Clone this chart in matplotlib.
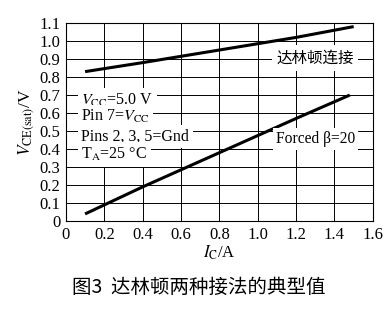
import numpy as np
import matplotlib
matplotlib.use("Agg")
import matplotlib.pyplot as plt

plt.rcParams['font.family'] = ['Liberation Serif', 'Noto Sans CJK SC']
plt.rcParams['mathtext.fontset'] = 'stix'

# curves
ic_darl = [0.10, 0.40, 0.80, 1.20, 1.50]
v_darl = [0.83, 0.88, 0.95, 1.02, 1.08]
ic_forced = [0.10, 0.40, 0.80, 1.20, 1.48]
v_forced = [0.04, 0.19, 0.38, 0.57, 0.70]

x_ticks = [0, 0.2, 0.4, 0.6, 0.8, 1.0, 1.2, 1.4, 1.6]
x_labels = ['0', '0.2', '0.4', '0.6', '0.8', '1.0', '1.2', '1.4', '1.6']
y_ticks = [0, 0.1, 0.2, 0.3, 0.4, 0.5, 0.6, 0.7, 0.8, 0.9, 1.0, 1.1]
y_labels = ['0', '0.1', '0.2', '0.3', '0.4', '0.5', '0.6', '0.7', '0.8', '0.9', '1.0', '1.1']

fig = plt.figure(figsize=(3.9, 3.15), dpi=100)
ax = fig.add_axes([0.169, 0.298, 0.787, 0.629])

ax.plot(ic_darl, v_darl, color='black', lw=2.2, solid_capstyle='butt')
ax.plot(ic_forced, v_forced, color='black', lw=2.2, solid_capstyle='butt')

ax.set_xlim(0, 1.6)
ax.set_ylim(0, 1.1)
ax.set_xticks(x_ticks)
ax.set_xticklabels(x_labels)
ax.set_yticks(y_ticks)
ax.set_yticklabels(y_labels)
ax.tick_params(length=0, labelsize=12, pad=4)
ax.grid(True, color='black', lw=0.7)
ax.set_axisbelow(True)
for s in ax.spines.values():
    s.set_linewidth(0.8)

ax.set_xlabel(r'$I_{\mathrm{C}}$/A', fontsize=12, labelpad=1)
ax.set_ylabel(r'$V_{\mathrm{CE(sat)}}$/V', fontsize=12.5, labelpad=2)

ax.text(1.30, 0.905, '达林顿连接', fontsize=11.2, ha='center', va='center',
        family=['Noto Sans CJK SC'],
        bbox=dict(facecolor='white', edgecolor='none', pad=3))
ax.text(1.30, 0.455, 'Forced β=20', fontsize=11.2, ha='center', va='center',
        bbox=dict(facecolor='white', edgecolor='none', pad=2))

info = [r'$V_{\mathrm{CC}}$=5.0 V', r'Pin 7=$V_{\mathrm{CC}}$',
        'Pins 2, 3, 5=Gnd', r'T$_{\mathrm{A}}$=25 °C']
info_y = [0.67, 0.58, 0.47, 0.37]
for t, y in zip(info, info_y):
    ax.text(0.08, y, t, fontsize=11.5, ha='left', va='center',
            bbox=dict(facecolor='white', edgecolor='none', pad=2.5))

fig.text(0.510, 0.086, '图3  达林顿两种接法的典型值', fontsize=14, ha='center', va='center',
         family=['Noto Sans CJK SC'])

fig.savefig('out.png', dpi=100)
